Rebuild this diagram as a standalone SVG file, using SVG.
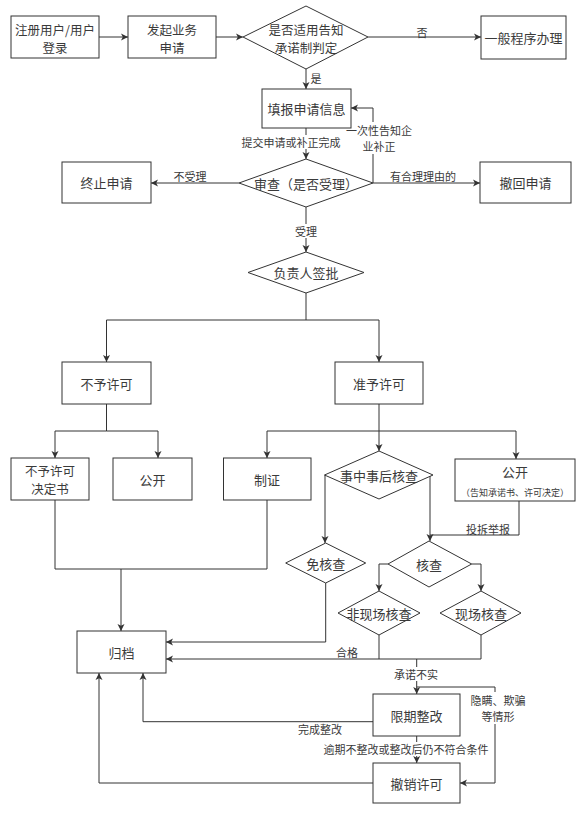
<svg xmlns="http://www.w3.org/2000/svg" width="586" height="814" viewBox="0 0 586 814">
<defs>
<marker id="arr" markerUnits="userSpaceOnUse" markerWidth="8" markerHeight="8" refX="7" refY="4" orient="auto">
<path d="M0,0.5 L7,4 L0,7.5 L1.8,4 z" fill="#333"/>
</marker>
<style>
.n rect, .n polygon { fill:#fff; stroke:#333; stroke-width:1; }
.t { font-family:"Noto Sans CJK SC","Noto Sans",sans-serif; font-size:13px; fill:#3a3a3a; text-anchor:middle; dominant-baseline:central; }
.t2 { font-size:12.5px; }
.s { font-family:"Noto Sans CJK SC","Noto Sans",sans-serif; font-size:11px; fill:#3a3a3a; text-anchor:middle; dominant-baseline:central; }
.xs { font-size:9px; }
.e path { fill:none; stroke:#333; stroke-width:1; }
.e path.a { marker-end:url(#arr); }
.bg { fill:#fff; stroke:none; }
</style>
</defs>
<rect width="586" height="814" fill="#fff"/>

<g id="connectors" class="e">
<path class="a" d="M99,37 H128"/>
<path class="a" d="M216,37 H243"/>
<path class="a" d="M368,37 H481"/>
<path class="a" d="M306,69 V89"/>
<path class="a" d="M306,128 V159"/>
<path class="a" d="M373,183 V108 H351"/>
<path class="a" d="M239,183 H151"/>
<path class="a" d="M373,183 H480"/>
<path class="a" d="M306,207 V252"/>
<path class="a" d="M306,293 V320 H106.5 V362"/>
<path class="a" d="M306,320 H379 V362"/>
<path class="a" d="M106.5,404 V431 H55 V458"/>
<path class="a" d="M106.5,431 H158 V458"/>
<path class="a" d="M379,404 V431 H267 V458"/>
<path class="a" d="M379,431 V451"/>
<path class="a" d="M379,431 H516 V459"/>
<path class="a" d="M325,475 V543"/>
<path class="a" d="M430,476 V541"/>
<path d="M519,501 V535 H430"/>
<path class="a" d="M388,564 H379 V591"/>
<path class="a" d="M471.7,564 H481 V591"/>
<path class="a" d="M325.7,583 V642 H166"/>
<path d="M379,635 V659"/>
<path class="a" d="M481,635 V659 H166"/>
<path d="M55,500 V569 H267"/>
<path d="M267,500 V569"/>
<path class="a" d="M121,569 V631"/>
<path class="a" d="M416.7,659 V694"/>
<path class="a" d="M416.7,687 H495 V783 H460"/>
<path class="a" d="M373,721.7 H143 V673"/>
<path class="a" d="M416.7,736 V763"/>
<path class="a" d="M373,783 H99 V673"/>

<g id="labels">
<text class="s" x="422" y="32">否</text>
<text class="s" x="316" y="78">是</text>
<rect class="bg" x="241" y="135" width="99" height="14"/>
<text class="s" x="291" y="142">提交申请或补正完成</text>
<rect class="bg" x="346" y="122" width="66" height="32"/>
<text class="s"><tspan x="379" y="130">一次性告知企</tspan><tspan x="379" y="146">业补正</tspan></text>
<text class="s" x="190" y="176">不受理</text>
<text class="s" x="423" y="176">有合理理由的</text>
<rect class="bg" x="295" y="224" width="22" height="14"/>
<text class="s" x="306" y="231">受理</text>
<text class="s" x="488" y="529">投拆举报</text>
<text class="s" x="347" y="652">合格</text>
<rect class="bg" x="394" y="667" width="45" height="14"/>
<text class="s" x="416" y="674">承诺不实</text>
<rect class="bg" x="470" y="692" width="56" height="32"/>
<text class="s"><tspan x="498" y="700">隐瞒、欺骗</tspan><tspan x="498" y="716">等情形</tspan></text>
<text class="s" x="320" y="729">完成整改</text>
<rect class="bg" x="323" y="742" width="167" height="14"/>
<text class="s" x="406" y="749">逾期不整改或整改后仍不符合条件</text>
</g>
</g>

<g id="n-register" class="n"><rect x="11" y="16" width="88" height="42"/><text class="t t2"><tspan x="55" y="28.5">注册用户/用户</tspan><tspan x="55" y="46.5">登录</tspan></text></g>
<g id="n-apply" class="n"><rect x="128" y="16" width="88" height="42"/><text class="t t2"><tspan x="172" y="28.5">发起业务</tspan><tspan x="172" y="46.5">申请</tspan></text></g>
<g id="d-judge" class="n"><polygon points="306,6 368,37 306,69 243,37"/><text class="t t2"><tspan x="306" y="28.5">是否适用告知</tspan><tspan x="306" y="46.5">承诺制判定</tspan></text></g>
<g id="n-general" class="n"><rect x="481" y="16" width="85" height="43"/><text class="t" x="523.5" y="37.5">一般程序办理</text></g>
<g id="n-fill" class="n"><rect x="262" y="89" width="89" height="39"/><text class="t" x="306.5" y="108.5">填报申请信息</text></g>
<g id="d-review" class="n"><polygon points="306,159 373,183 306,207 239,183"/><text class="t" x="306" y="183">审查（是否受理）</text></g>
<g id="n-stop" class="n"><rect x="62" y="162" width="89" height="41"/><text class="t" x="106.5" y="182.5">终止申请</text></g>
<g id="n-withdraw" class="n"><rect x="480" y="162" width="91" height="41"/><text class="t" x="525.5" y="182.5">撤回申请</text></g>
<g id="d-sign" class="n"><polygon points="306,252 364,272.5 306,293 248,272.5"/><text class="t" x="306" y="272.5">负责人签批</text></g>
<g id="n-deny" class="n"><rect x="62" y="362" width="89" height="42"/><text class="t" x="106.5" y="383">不予许可</text></g>
<g id="n-grant" class="n"><rect x="335" y="362" width="88" height="42"/><text class="t" x="379" y="383">准予许可</text></g>
<g id="n-denydoc" class="n"><rect x="11" y="458" width="78" height="42"/><text class="t t2"><tspan x="50" y="470">不予许可</tspan><tspan x="50" y="488">决定书</tspan></text></g>
<g id="n-public1" class="n"><rect x="113" y="458" width="79" height="42"/><text class="t" x="152.5" y="479">公开</text></g>
<g id="n-cert" class="n"><rect x="223.5" y="458" width="87.5" height="42"/><text class="t" x="267" y="479">制证</text></g>
<g id="d-check" class="n"><polygon points="379,451 433,475 379,499 324.5,475"/><text class="t" x="379" y="475">事中事后核查</text></g>
<g id="n-public2" class="n"><rect x="455" y="459" width="120" height="42"/><text class="t"><tspan x="515" y="471">公开</tspan><tspan class="xs" x="515" y="491.5">（告知承诺书、许可决定）</tspan></text></g>
<g id="d-exempt" class="n"><polygon points="325.7,543 365.7,563 325.7,583 285.7,563"/><text class="t" x="325.7" y="563">免核查</text></g>
<g id="d-verify" class="n"><polygon points="429,541 471.7,564 429,587 388,564"/><text class="t" x="429" y="564">核查</text></g>
<g id="d-offsite" class="n"><polygon points="379,591 420,613 379,635 338,613"/><text class="t" x="379" y="613">非现场核查</text></g>
<g id="d-onsite" class="n"><polygon points="481,591 521,613 481,635 440,613"/><text class="t" x="481" y="613">现场核查</text></g>
<g id="n-archive" class="n"><rect x="77" y="631" width="89" height="42"/><text class="t" x="121.5" y="652">归档</text></g>
<g id="n-rectify" class="n"><rect x="373" y="694" width="87" height="42"/><text class="t" x="416.5" y="715">限期整改</text></g>
<g id="n-revoke" class="n"><rect x="373" y="763" width="87" height="40"/><text class="t" x="416.5" y="783">撤销许可</text></g>
</svg>
